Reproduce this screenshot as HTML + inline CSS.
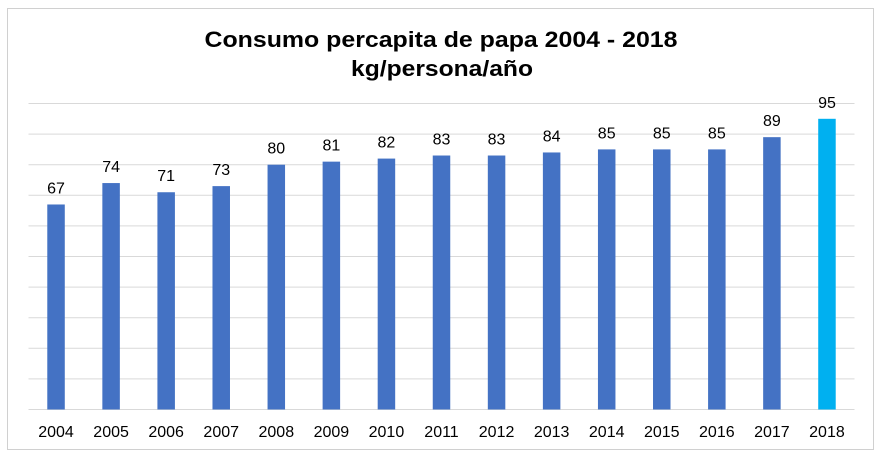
<!DOCTYPE html>
<html><head><meta charset="utf-8"><style>
html,body{margin:0;padding:0;background:#fff;}
svg{display:block;font-family:"Liberation Sans",Arial,sans-serif;}
</style></head><body>
<svg id="chart" width="881" height="454">
<rect x="7.5" y="8.5" width="866" height="441" fill="#fff" stroke="#d0d0d0"/>
<text x="441" y="47" text-anchor="middle" font-size="22" font-weight="bold" textLength="473" lengthAdjust="spacingAndGlyphs">Consumo percapita de papa 2004 - 2018</text>
<text x="442" y="76" text-anchor="middle" font-size="22" font-weight="bold" textLength="182" lengthAdjust="spacingAndGlyphs">kg/persona/año</text>
<g id="grid"></g><g id="bars"></g><g id="labels"></g>
</svg>
<script>
const categories=["2004","2005","2006","2007","2008","2009","2010","2011","2012","2013","2014","2015","2016","2017","2018"];
const values=[67,74,71,73,80,81,82,83,83,84,85,85,85,89,95];
const highlight=["2018"];
const yTicks=[0,10,20,30,40,50,60,70,80,90,100];
const NS="http://www.w3.org/2000/svg";
const plotLeft=28.5,plotRight=854.5,plotTop=103.5,plotBottom=409.5,yMax=100;
const band=(plotRight-plotLeft)/categories.length;
const xPos=i=>plotLeft+band*(i+0.5);
const yPos=v=>plotBottom-(v/yMax)*(plotBottom-plotTop);
function mk(t,a){const e=document.createElementNS(NS,t);for(const k in a)e.setAttribute(k,a[k]);return e;}
const grid=document.getElementById('grid'),bars=document.getElementById('bars'),labels=document.getElementById('labels');
yTicks.forEach(t=>{
 const l=mk('line',{x1:plotLeft,x2:plotRight,y1:yPos(t),y2:yPos(t),stroke:'#d9d9d9','stroke-width':1});
 
 
 grid.appendChild(l);
});
categories.forEach((c,i)=>{
 const w=17.5;
 const r=mk('rect',{x:xPos(i)-w/2,y:yPos(values[i]),width:w,height:plotBottom-yPos(values[i]),fill:highlight.includes(c)?'#00B0F0':'#4472C4'});
 
 
 bars.appendChild(r);
 const v=mk('text',{x:xPos(i),y:yPos(values[i])-11,'text-anchor':'middle','font-size':16,fill:'#000'});
 v.textContent=values[i];
 
 
 labels.appendChild(v);
 const t=mk('text',{x:xPos(i),y:437,'text-anchor':'middle','font-size':16,fill:'#000'});
 t.textContent=c;
 
 
 labels.appendChild(t);
});
</script>
</body></html>
